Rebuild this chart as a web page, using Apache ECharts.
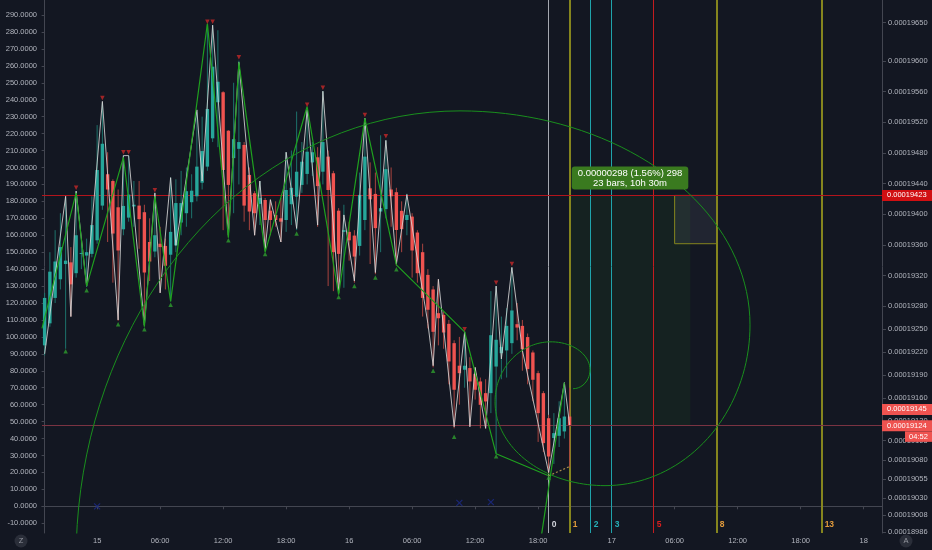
<!DOCTYPE html>
<html><head><meta charset="utf-8">
<script src="https://cdn.jsdelivr.net/npm/echarts@6/dist/echarts.min.js"></script>
<style>html,body{margin:0;padding:0;background:#131722;}#c{width:932px;height:550px;}</style>
</head><body><div id="c"></div>
<script>
// ---------- DATA ----------
// 30-minute candles, bar index = row index: [open, close, low, high] (left-axis units)
const candles = [
[95,123,89,126],[108,138.5,106,150],[123,144.5,120,163],[134,153,128,173],[143,145,93,182],
[144,131,112,153],[137.6,160,135,186],[149,149.5,140,158],[148,150,129.5,158],[149,166,147,183],
[157,198.5,155,225],[177.5,214,175,238],[196,187,156,209],[192,161,132,193],[176.5,151,109.5,187],
[163.5,177.3,160,207],[170.4,184,168,207],[177,178,165,192],[177.5,169.5,152,192],[173.6,138,106.5,178],
[156,144.5,133,170],[150.4,160,147,184],[155,153,126,165],[153.7,142,128,158],[148.5,162,121,194],
[154,179,150,193],[167.5,179,160,198],[173,186,165,200],[179.5,186.3,170,196],[183,200.5,180,233],
[191,209.7,187,230],[200.5,234.5,198,284],[217.2,259.5,215,284],[238.5,250.6,212,281],[244.4,198.5,163,245],
[221.7,189.7,159,222],[205.5,216.7,173,250],[211,215,190,263],[213.3,177.5,168,215],[195.6,174,163,200],
[184.8,173,160,186],[178.5,182,166,192],[180.8,169,151,182],[174.5,169,160,181],[172,169,165,180],
[170,168,156,182],[169,186.7,162,209],[178.3,188,166,210],[182.8,197.5,163,233],[189.7,203.4,185,215],
[196.2,209.3,190,235],[203,209,195,215],[206,189,165,212],[197.5,215,190,245],[206.4,186.7,130,210],
[196.6,150,127,198],[174.5,149,125.5,176],[162,163,129,178],[162,157,145,168],[159.8,147.4,132,163],
[153.7,183.8,148,197],[169,206.4,163,229],[187.7,181.2,143,203],[184.4,164.2,137,197],[174,176,150,219],
[175.4,199,170,216],[187,183,165,200],[185.4,163.1,142,188],[174.4,163.6,150,180],[169,172,160,184.5],
[171,151,135,173],[161.6,137.6,132,163],[150,123,112,155],[136.6,116,105,140],[128,103,82,130],
[114,111,95,134],[113,102.6,93,115],[107.7,85.5,72,110],[96.3,68.8,46,98],[83,78.6,60,100],
[80.6,83,70,103],[81.6,73.7,47,88],[78.2,68.8,63,82],[73.7,59.9,46,76],[66.8,61.9,46,75],
[66.8,101,55,127],[82.5,98.3,31,130],[90.4,94,75,112],[92,106.5,76,117],[96.3,115.6,90,141],
[107.5,105.5,98,120],[106.5,92.8,80,110],[99.9,81,72,102],[90.8,74.7,62,92],[78.6,55,38,80],
[66.8,37.3,32,68],[52,29.4,19,54],[40.3,43.2,25,55],[41.6,52,35,62],[44.2,53,40,73],
[53,48,23,70]
];
// small zigzag (grey) [bar, value]
const greyZigzag = [[0,90],[4,183],[5,112],[6,186],[8,130],[11,239],[14,110],[15,207],[16,207],[19,107],[21,185],[22,126],[24,194],[25,154],[29,234],[30,192],[32,284],[35,160],[37,262],[40,160],[41,192],[42,152],[43,181],[45,156],[46,209],[48,164],[50,234],[52,166],[53,245],[56,126],[57,172],[59,133],[61,229],[63,138],[65,216],[67,143],[69,184],[73,108],[74,83],[75,134],[78,47],[80,103],[81,47],[82,82],[84,46],[86,130],[87,87],[89,141],[91,92],[96,20],[99,73],[100,48]];
// large zigzag (green)
const greenZigzag = [[-0.5,105],[6,185],[8,130],[15,206],[19,106],[21,183],[24,121],[31,285],[35,158.5],[37,262],[42,150],[50,236],[56,125],[61,229],[67,142.5],[80,103],[86,31],[96,18]];
const pendingLeg = [[96,18],[100,23.5]];
// pivot markers
const pivotHighs = [[6,188],[11,241],[15,209],[16,209],[21,186.5],[31,286],[32,286],[37,265],[50,237],[53,247],[61,231],[65,218.5],[80,104.5],[86,132],[89,143]];
const pivotLows = [[4,91.5],[8,127.5],[14,107.5],[19,104.5],[24,119],[35,157],[42,149],[48,161],[56,123.5],[59,130],[63,135],[67,140],[74,80],[78,41],[86,29.5],[96,17]];
const crossMarks = [[10,0],[79,2],[85,2.5]];
// fibonacci spiral extreme points [bar, value] and its axis line
const spiralPts = [[100.64,69.4],[103.88,80.6],[96.45,97.1],[85.79,61.7],[106.74,12.2],[134.36,107.1],[79.12,233.4],[5.98,-31.5]];
const spiralLine = [[99,73],[94.5,-20]];
// fib time zones
const fibBars = [96,100,104,108,116,128,148];
const fibNames = ['0','1','2','3','5','8','13'];
const fibLineColors = ['#a5a8b0','#85851e','#1fa3ab','#1fa3ab','#c41c1f','#85851e','#85851e'];
const fibTextColors = ['#d1d4dc','#e09a3c','#26b0b8','#26b0b8','#d6201f','#e09a3c','#e09a3c'];
const fibWidths = [1,2,1,1,1,2,2];
// price range measure
const measureBars = [100,123];
const measureVals = [183.5,47.5];
const measureText = ['0.00000298 (1.56%) 298','23 bars, 10h 30m'];
const smallBoxBars = [120,128];
const smallBoxVals = [183.5,155];
// horizontal lines and price badges
const hLineVals = [183.5,47.5];
const hLineColors = ['#b3141c','#7a3342'];
const badgeVals = [183.5,57.2,47.5];
const badgeTexts = ['0.00019423','0.00019145','0.00019124'];
const badgeColors = ['#d10f12','#ef5350','#ef5350'];
const countdownText = '04:52';
// axis tick labels
const leftTicks = [-10,0,10,20,30,40,50,60,70,80,90,100,110,120,130,140,150,160,170,180,190,200,210,220,230,240,250,260,270,280,290];
const rightTicks = [19650,19600,19560,19520,19480,19440,19400,19360,19320,19280,19250,19220,19190,19160,19130,19105,19080,19055,19030,19008,18986];
const xTickBars = [10,22,34,46,58,70,82,94,108,120,132,144,156];
const xTickText = ['15','06:00','12:00','18:00','16','06:00','12:00','18:00','17','06:00','12:00','18:00','18'];

// ---------- CHART ----------
const FONT = '"Liberation Sans", Arial, sans-serif';
const TXT = '#b2b5be';
const AX = '#434651';
const upC = '#26a69a', dnC = '#ef5350', upW = '#1d736c', dnW = '#a8443f';
const X_MIN = -0.5, X_MAX = 159.5, Y_MIN = -15.75, Y_MAX = 298.85;

function buildSpiral(P){
  const out = [];
  for (let k = 0; k < P.length - 1; k++) {
    const a = P[k], b = P[k+1];
    const c = (k % 2 === 0) ? [a[0], b[1]] : [b[0], a[1]];
    const N = 40;
    for (let s = (k === 0 ? 0 : 1); s <= N; s++) {
      const t = s / N * Math.PI / 2;
      out.push([c[0] + (a[0]-c[0])*Math.cos(t) + (b[0]-c[0])*Math.sin(t),
                c[1] + (a[1]-c[1])*Math.cos(t) + (b[1]-c[1])*Math.sin(t)]);
    }
  }
  return out;
}

const plainLine = (data, color, width, z, type) => ({
  type: 'line', z: z, data: data, showSymbol: false, silent: true, animation: false,
  lineStyle: { color: color, width: width, type: type || 'solid' }
});
const snap = (p, w) => (w % 2 === 1) ? Math.round(p - 0.5) + 0.5 : Math.round(p);

// straight guide lines: [kind(0=vertical,1=horizontal), position, colour, width]
const guideData = fibBars.map((b,k) => [0, b, fibLineColors[k], fibWidths[k]])
  .concat(hLineVals.map((v,k) => [1, v, hLineColors[k], 1]));

const series = [
  { // measure areas
    type: 'line', data: [], z: 1, silent: true,
    markArea: { silent: true, data: [
      [{ xAxis: measureBars[0], yAxis: measureVals[0], itemStyle: { color: 'rgba(40,95,30,0.16)' } },
       { xAxis: measureBars[1], yAxis: measureVals[1] }],
      [{ xAxis: smallBoxBars[0], yAxis: smallBoxVals[0], itemStyle: { color: 'rgba(200,210,230,0.08)', borderColor: '#85851e', borderWidth: 1 } },
       { xAxis: smallBoxBars[1], yAxis: smallBoxVals[1] }]
    ] }
  },
  { // fib time zones & horizontal price lines, snapped to whole pixels
    type: 'custom', z: 2, silent: true, clip: true,
    data: guideData.map((d,i) => [d[0] === 0 ? d[1] : 0, d[0] === 1 ? d[1] : 0, i]),
    encode: { x: 0, y: 1 },
    renderItem: (params, api) => {
      const d = guideData[api.value(2)];
      const cs = params.coordSys;
      const w = d[3];
      if (d[0] === 0) {
        const x = snap(api.coord([d[1], 0])[0], w);
        return { type: 'line', shape: { x1: x, y1: cs.y, x2: x, y2: cs.y + cs.height }, style: { stroke: d[2], lineWidth: w } };
      }
      const y = snap(api.coord([0, d[1]])[1], w);
      return { type: 'line', shape: { x1: cs.x, y1: y, x2: cs.x + cs.width, y2: y }, style: { stroke: d[2], lineWidth: w } };
    }
  },
  { // candles
    type: 'custom', z: 3, clip: true,
    data: candles.map((r,i) => [i, r[0], r[1], r[2], r[3]]),
    encode: { x: 0, y: [1,2,3,4] },
    renderItem: (params, api) => {
      const x = api.value(0), o = api.value(1), c = api.value(2), l = api.value(3), h = api.value(4);
      const pO = api.coord([x,o]), pC = api.coord([x,c]), pL = api.coord([x,l]), pH = api.coord([x,h]);
      const up = c >= o, w = 3.4;
      const top = Math.min(pO[1], pC[1]), ht = Math.max(1, Math.abs(pO[1]-pC[1]));
      return { type: 'group', children: [
        { type: 'line', shape: { x1: pL[0], y1: pL[1], x2: pH[0], y2: pH[1] }, style: { stroke: up ? upW : dnW, lineWidth: 1 } },
        { type: 'rect', shape: { x: pO[0]-w/2, y: top, width: w, height: ht }, style: { fill: up ? upC : dnC } }
      ] };
    }
  },
  plainLine(greyZigzag, 'rgba(215,215,215,0.85)', 1, 4),
  plainLine(greenZigzag, '#1fa11f', 1.2, 5),
  plainLine(pendingLeg, '#a88a4a', 1.2, 5, [2,2]),
  plainLine(buildSpiral(spiralPts), '#1a8f1e', 1, 5),
  plainLine(spiralLine, '#1fa11f', 1.2, 5),
  { type: 'scatter', z: 6, data: pivotHighs, symbol: 'triangle', symbolRotate: 180, symbolSize: 4.5, silent: true,
    itemStyle: { color: '#c62828' } },
  { type: 'scatter', z: 6, data: pivotLows, symbol: 'triangle', symbolSize: 4.5, silent: true,
    itemStyle: { color: '#2e9d2e' } },
  { type: 'scatter', z: 6, data: crossMarks, symbol: 'path://M0 0L10 10M10 0L0 10', symbolSize: 6, silent: true,
    itemStyle: { color: 'rgba(0,0,0,0)', borderColor: '#1c2a8a', borderWidth: 1.2 } }
];

const chart = echarts.init(document.getElementById('c'));
const option = {
  backgroundColor: '#131722',
  animation: false,
  textStyle: { fontFamily: FONT },
  grid: { left: 42, right: 50, top: 0, bottom: 17, containLabel: false },
  xAxis: [{
    type: 'value', min: X_MIN, max: X_MAX,
    axisLine: { show: true, lineStyle: { color: AX } },
    axisTick: { show: true, length: 3, lineStyle: { color: AX }, customValues: xTickBars },
    axisLabel: { color: TXT, fontSize: 7.5, margin: 4, fontFamily: FONT, customValues: xTickBars,
      formatter: v => { const k = xTickBars.indexOf(v); return k < 0 ? '' : xTickText[k]; } },
    splitLine: { show: false }
  }],
  yAxis: [{
    type: 'value', position: 'left', min: Y_MIN, max: Y_MAX,
    axisLine: { show: true, lineStyle: { color: AX } },
    axisTick: { show: true, length: 3, lineStyle: { color: AX }, customValues: leftTicks },
    axisLabel: { color: TXT, fontSize: 7.5, margin: 5, fontFamily: FONT, customValues: leftTicks,
      formatter: v => v.toFixed(4) },
    splitLine: { show: false }
  }, {
    type: 'value', position: 'right', min: 18984.5, max: 19679.5,
    axisLine: { show: true, lineStyle: { color: AX } },
    axisTick: { show: true, length: 4, lineStyle: { color: AX }, customValues: rightTicks },
    axisLabel: { color: TXT, fontSize: 7.5, margin: 6, fontFamily: FONT, customValues: rightTicks,
      formatter: v => '0.000' + Math.round(v) },
    splitLine: { show: false }
  }],
  series: series
};
chart.setOption(option);

// ---------- overlays placed through the chart's own scales ----------
const px = (x, v) => chart.convertToPixel({ xAxisIndex: 0, yAxisIndex: 0 }, [x, v]);
const g = [];
const bottomY = px(0, Y_MIN)[1];
const rightX = px(X_MAX, 0)[0];
fibBars.forEach((b,k) => {
  const p = px(b, 0);
  g.push({ type: 'text', x: p[0] + 3, y: bottomY - 4, z: 100, silent: true,
    style: { text: fibNames[k], fill: fibTextColors[k], font: 'bold 8.5px ' + FONT, align: 'left', verticalAlign: 'bottom' } });
});
{
  const pa = px((measureBars[0]+measureBars[1])/2, measureVals[0]);
  g.push({ type: 'text', x: pa[0], y: pa[1] - 6, z: 100, silent: true,
    style: { text: measureText.join('\n'), fill: '#ffffff', font: '9.5px ' + FONT, align: 'center', verticalAlign: 'bottom',
      backgroundColor: '#3a7a1f', padding: [1.5,6,1.5,6], borderRadius: 3, lineHeight: 10 } });
}
badgeVals.forEach((v,k) => {
  const y = px(0, v)[1];
  g.push({ type: 'rect', z: 100, silent: true, shape: { x: rightX, y: y - 5.5, width: 932 - rightX, height: 11 }, style: { fill: badgeColors[k] } });
  g.push({ type: 'text', z: 101, silent: true, x: rightX + 5, y: y,
    style: { text: badgeTexts[k], fill: '#ffffff', font: '7.5px ' + FONT, align: 'left', verticalAlign: 'middle' } });
});
{
  const y = px(0, badgeVals[2])[1] + 5.5;
  g.push({ type: 'rect', z: 100, silent: true, shape: { x: 905, y: y, width: 27, height: 10.5 }, style: { fill: badgeColors[2] } });
  g.push({ type: 'text', z: 101, silent: true, x: 918.5, y: y + 5.25,
    style: { text: countdownText, fill: '#ffffff', font: '7.5px ' + FONT, align: 'center', verticalAlign: 'middle' } });
}
[[21,'Z'],[906,'A']].forEach(([cx,t]) => {
  g.push({ type: 'circle', z: 100, silent: true, shape: { cx: cx, cy: 541, r: 6.5 }, style: { fill: '#2a2e39' } });
  g.push({ type: 'text', z: 101, silent: true, x: cx, y: 541,
    style: { text: t, fill: '#9598a1', font: '7.5px ' + FONT, align: 'center', verticalAlign: 'middle' } });
});
chart.setOption({ graphic: g });
</script></body></html>
